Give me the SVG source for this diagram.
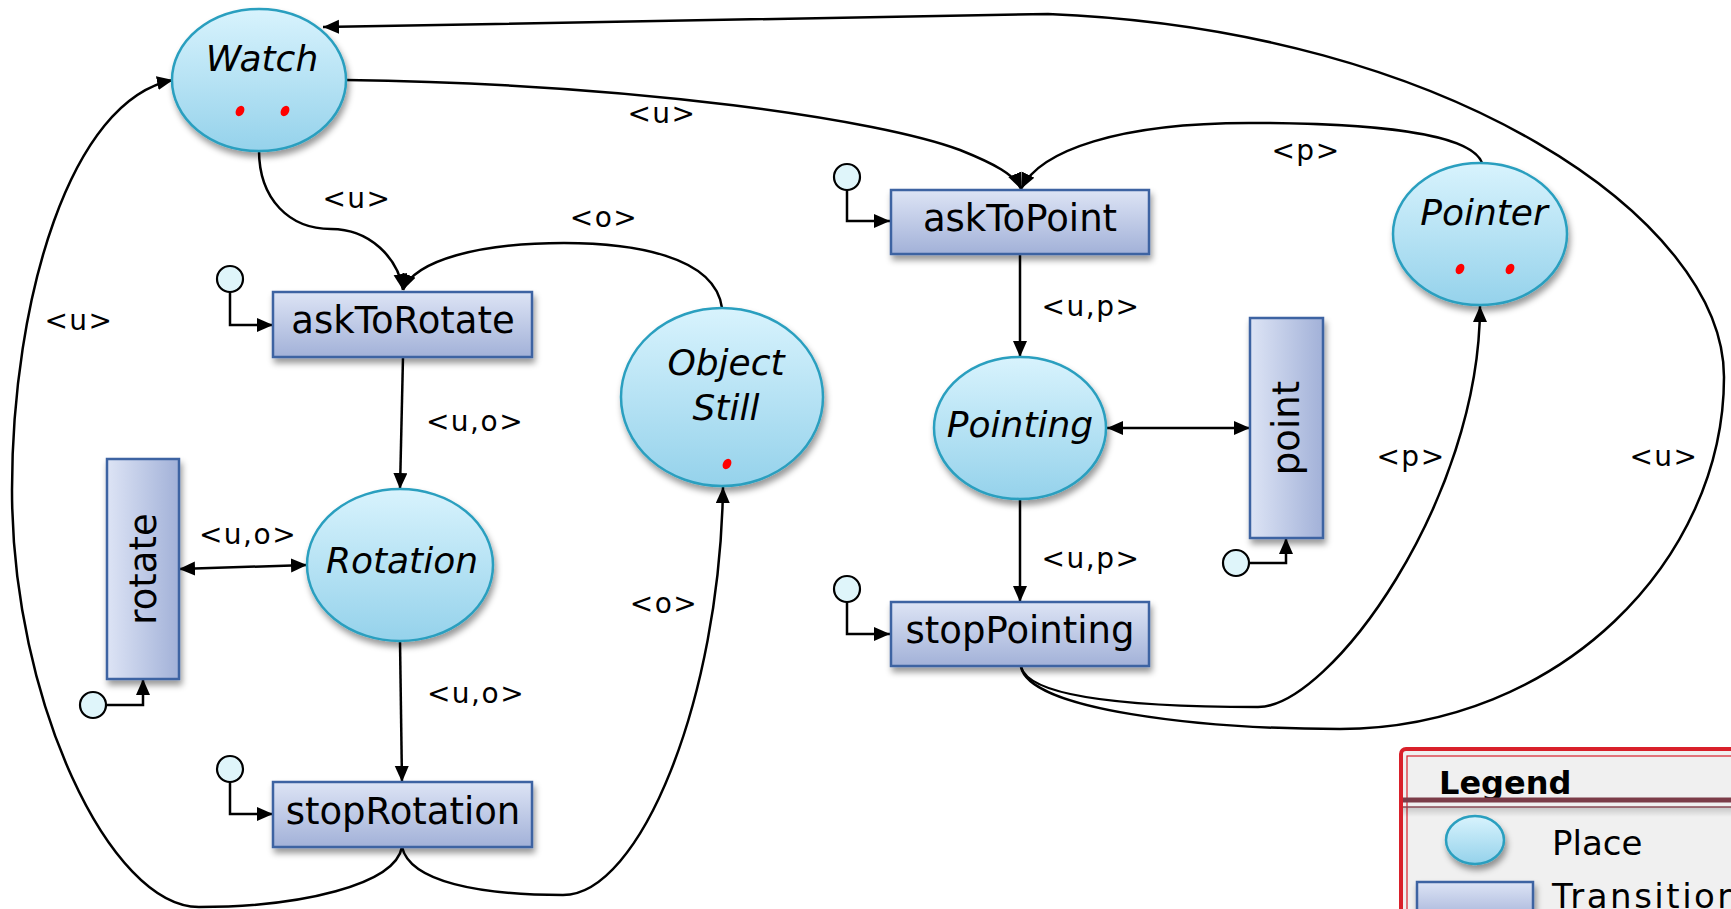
<svg xmlns="http://www.w3.org/2000/svg" width="1731" height="909" viewBox="0 0 1731 909">
<defs>
  <linearGradient id="gPlace" x1="0" y1="0" x2="0" y2="1">
    <stop offset="0" stop-color="#d8f3fd"/>
    <stop offset="1" stop-color="#95d2eb"/>
  </linearGradient>
  <linearGradient id="gTrans" x1="0" y1="0" x2="0" y2="1">
    <stop offset="0" stop-color="#dde4f5"/>
    <stop offset="1" stop-color="#a2b1d8"/>
  </linearGradient>
  <linearGradient id="gTransV" x1="0" y1="0" x2="1" y2="0">
    <stop offset="0" stop-color="#dde4f5"/>
    <stop offset="1" stop-color="#a2b1d8"/>
  </linearGradient>
  <linearGradient id="gSep" x1="0" y1="0" x2="0" y2="1">
    <stop offset="0" stop-color="#000" stop-opacity="0.18"/>
    <stop offset="1" stop-color="#000" stop-opacity="0"/>
  </linearGradient>
  <filter id="shadow" x="-20%" y="-20%" width="140%" height="150%">
    <feDropShadow dx="2" dy="5" stdDeviation="3" flood-color="#000" flood-opacity="0.4"/>
  </filter>
  <marker id="arr" markerUnits="userSpaceOnUse" markerWidth="18" markerHeight="16" refX="16" refY="7" orient="auto-start-reverse">
    <path d="M0,0 L16,7 L0,14 z" fill="#000"/>
  </marker>
  <style>
    .place{fill:url(#gPlace);stroke:#2a9fbf;stroke-width:2.5;filter:url(#shadow)}
    .trans{fill:url(#gTrans);stroke:#3d63a2;stroke-width:2.5;filter:url(#shadow)}
    .transv{fill:url(#gTransV);stroke:#3d63a2;stroke-width:2.5;filter:url(#shadow)}
    .init{fill:#dff5fa;stroke:#000;stroke-width:2.2}
    .tok{fill:#ff0000}
    .pl{font-family:"DejaVu Sans",sans-serif;font-style:italic;font-size:36px;fill:#000;text-anchor:middle}
    .tl{font-family:"DejaVu Sans",sans-serif;font-size:37px;fill:#000;text-anchor:middle}
    .lbl{font-family:"DejaVu Sans",sans-serif;font-size:28px;letter-spacing:1.5px;fill:#000;text-anchor:middle}
    .arcA{fill:none;stroke:#000;stroke-width:2.5;marker-end:url(#arr)}
    .arcB{fill:none;stroke:#000;stroke-width:2.5;marker-end:url(#arr);marker-start:url(#arr)}
    .lg{font-family:"DejaVu Sans",sans-serif;font-size:34px;fill:#000}
  </style>
</defs>

<g id="connectors">
  <!-- Watch -> askToRotate -->
  <path class="arcA" d="M259,150 C259,200 290,229 331,229 C370,229 398,258 403,290"/>
  <!-- ObjectStill -> askToRotate -->
  <path class="arcA" d="M722,308 C715,255 630,243 564,243 C480,243 415,260 403,290"/>
  <!-- askToRotate -> Rotation -->
  <path class="arcA" d="M403,357 L400,489"/>
  <!-- rotate <-> Rotation -->
  <path class="arcB" d="M179,569 L307,565"/>
  <!-- Rotation -> stopRotation -->
  <path class="arcA" d="M400,641 L402,782"/>
  <!-- stopRotation -> Watch -->
  <path class="arcA" d="M402,847 C395,885 300,907 199,907 C110,907 12,700 12,490 C12,300 70,100 173,80"/>
  <!-- stopRotation -> ObjectStill -->
  <path class="arcA" d="M402,847 C410,882 480,895 563,895 C640,895 720,700 723,487"/>
  <!-- init arcs left -->
  <path class="arcA" d="M230,292 L230,325 L273,325"/>
  <path class="arcA" d="M230,782 L230,814 L273,814"/>
  <path class="arcA" d="M106,705 L143,705 L143,679"/>
  <!-- Watch -> askToPoint -->
  <path class="arcA" d="M346,80 C640,84 880,120 960,150 C995,164 1015,175 1021,189"/>
  <!-- Pointer -> askToPoint -->
  <path class="arcA" d="M1482,163 C1470,130 1350,123 1249,123 C1120,123 1040,150 1021,189"/>
  <!-- askToPoint -> Pointing -->
  <path class="arcA" d="M1020,254 L1020,357"/>
  <!-- Pointing <-> point -->
  <path class="arcB" d="M1107,428 L1250,428"/>
  <!-- Pointing -> stopPointing -->
  <path class="arcA" d="M1020,499 L1020,602"/>
  <!-- stopPointing -> Pointer -->
  <path class="arcA" d="M1021,667 C1030,700 1150,707 1258,707 C1330,707 1480,500 1480,306"/>
  <!-- stopPointing -> Watch -->
  <path class="arcA" d="M1021,667 C1030,710 1200,729 1340,729 C1560,728 1724,560 1724,377 C1724,220 1450,30 1048,14 L323,27"/>
  <!-- init arcs right -->
  <path class="arcA" d="M847,190 L847,221 L890,221"/>
  <path class="arcA" d="M847,602 L847,634 L890,634"/>
  <path class="arcA" d="M1249,563 L1286,563 L1286,538"/>
</g>

<g id="labels">
  <text class="lbl" x="357" y="208">&lt;u&gt;</text>
  <text class="lbl" x="604" y="227">&lt;o&gt;</text>
  <text class="lbl" x="475" y="431">&lt;u,o&gt;</text>
  <text class="lbl" x="248" y="544">&lt;u,o&gt;</text>
  <text class="lbl" x="476" y="703">&lt;u,o&gt;</text>
  <text class="lbl" x="664" y="613">&lt;o&gt;</text>
  <text class="lbl" x="79" y="330">&lt;u&gt;</text>
  <text class="lbl" x="662" y="123">&lt;u&gt;</text>
  <text class="lbl" x="1306" y="160">&lt;p&gt;</text>
  <text class="lbl" x="1091" y="316">&lt;u,p&gt;</text>
  <text class="lbl" x="1091" y="568">&lt;u,p&gt;</text>
  <text class="lbl" x="1411" y="466">&lt;p&gt;</text>
  <text class="lbl" x="1664" y="466">&lt;u&gt;</text>
</g>

<g id="Watch">
  <ellipse class="place" cx="259" cy="80" rx="87" ry="71"/>
  <text class="pl" x="262" y="71">Watch</text>
  <ellipse class="tok" cx="240" cy="111" rx="4" ry="5.5" transform="rotate(30 240 111)"/>
  <ellipse class="tok" cx="285" cy="111" rx="4" ry="5.5" transform="rotate(30 285 111)"/>
</g>
<g id="ObjectStill">
  <ellipse class="place" cx="722" cy="397" rx="101" ry="89"/>
  <text class="pl" x="726" y="375">Object</text>
  <text class="pl" x="726" y="420">Still</text>
  <ellipse class="tok" cx="727" cy="464" rx="4" ry="5.5" transform="rotate(30 727 464)"/>
</g>
<g id="Rotation">
  <ellipse class="place" cx="400" cy="565" rx="93" ry="76"/>
  <text class="pl" x="402" y="573">Rotation</text>
</g>
<g id="Pointing">
  <ellipse class="place" cx="1020" cy="428" rx="86" ry="71"/>
  <text class="pl" x="1020" y="437">Pointing</text>
</g>
<g id="Pointer">
  <ellipse class="place" cx="1480" cy="234" rx="87" ry="71"/>
  <text class="pl" x="1484" y="225">Pointer</text>
  <ellipse class="tok" cx="1460" cy="269" rx="4" ry="5.5" transform="rotate(30 1460 269)"/>
  <ellipse class="tok" cx="1510" cy="269" rx="4" ry="5.5" transform="rotate(30 1510 269)"/>
</g>

<g id="askToRotate">
  <rect class="trans" x="273" y="292" width="259" height="65"/>
  <text class="tl" x="403" y="333">askToRotate</text>
  <circle class="init" cx="230" cy="279" r="13"/>
</g>
<g id="stopRotation">
  <rect class="trans" x="273" y="782" width="259" height="65"/>
  <text class="tl" x="403" y="824">stopRotation</text>
  <circle class="init" cx="230" cy="769" r="13"/>
</g>
<g id="rotate">
  <rect class="transv" x="107" y="459" width="72" height="220"/>
  <text class="tl" x="143" y="569" dominant-baseline="central" transform="rotate(-90 143 569)">rotate</text>
  <circle class="init" cx="93" cy="705" r="13"/>
</g>
<g id="askToPoint">
  <rect class="trans" x="891" y="190" width="258" height="64"/>
  <text class="tl" x="1020" y="231">askToPoint</text>
  <circle class="init" cx="847" cy="177" r="13"/>
</g>
<g id="stopPointing">
  <rect class="trans" x="891" y="602" width="258" height="64"/>
  <text class="tl" x="1020" y="643">stopPointing</text>
  <circle class="init" cx="847" cy="589" r="13"/>
</g>
<g id="point">
  <rect class="transv" x="1250" y="318" width="73" height="220"/>
  <text class="tl" x="1286" y="428" dominant-baseline="central" transform="rotate(-90 1286 428)">point</text>
  <circle class="init" cx="1236" cy="563" r="13"/>
</g>

<g id="legend">
  <rect x="1401" y="749" width="345" height="180" rx="5" fill="#f0f0f0" stroke="#d9202a" stroke-width="4"/>
  <rect x="1407" y="756" width="340" height="170" fill="none" stroke="#d9202a" stroke-width="1.2"/>
  <text x="1439" y="794" font-family="'DejaVu Sans',sans-serif" font-weight="bold" font-size="32" fill="#000">Legend</text>
  <rect x="1403" y="807" width="328" height="10" fill="url(#gSep)"/>
  <line x1="1403" y1="800" x2="1731" y2="800" stroke="#7b3c48" stroke-width="5"/>
  <line x1="1403" y1="807" x2="1731" y2="807" stroke="#8a4a55" stroke-width="1.5"/>
  <ellipse class="place" cx="1475" cy="840" rx="29" ry="24"/>
  <text class="lg" x="1552" y="855">Place</text>
  <rect class="trans" x="1417" y="882" width="116" height="40"/>
  <text class="lg" x="1552" y="908" letter-spacing="2.5">Transition</text>
</g>
</svg>
